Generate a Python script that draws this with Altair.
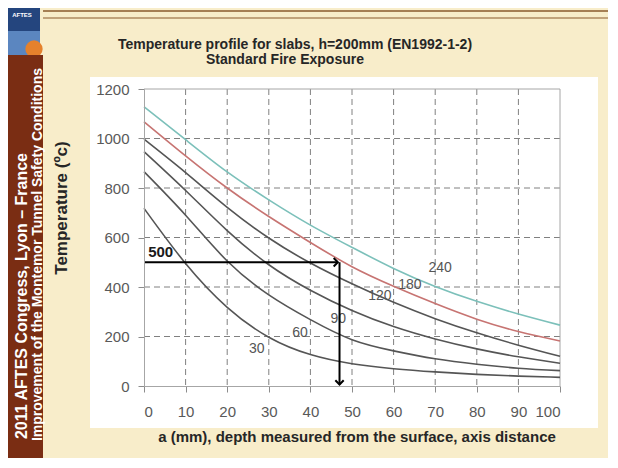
import altair as alt
import pandas as pd

# ---------------- data ----------------
depth_mm = [0, 10, 20, 30, 40, 50, 60, 70, 80, 90, 100]
R30 = [718, 495, 318, 197, 127, 90, 70, 57, 47, 40, 35]
R60 = [866, 690, 505, 368, 268, 187, 142, 110, 88, 72, 62]
R90 = [947, 790, 628, 490, 387, 305, 240, 190, 150, 118, 92]
R120 = [997, 862, 722, 598, 497, 413, 338, 272, 215, 165, 120]
R180 = [1068, 930, 800, 685, 580, 482, 403, 333, 270, 220, 182]
R240 = [1128, 995, 865, 752, 650, 560, 475, 402, 342, 291, 246]

series_names = ["30", "60", "90", "120", "180", "240"]
series_values = [R30, R60, R90, R120, R180, R240]
series_colors = ["#555555", "#555555", "#555555", "#555555", "#c77472", "#7cc0ba"]

label_x = [27.1, 37.5, 46.7, 56.7, 63.9, 71.2]
label_t = [150, 213, 269, 364, 408, 478]

x_ticks = [0, 10, 20, 30, 40, 50, 60, 70, 80, 90, 100]
y_ticks = [0, 200, 400, 600, 800, 1000, 1200]
x_grid = [10, 20, 30, 40, 50, 60, 70, 80, 90]
y_grid = [200, 400, 600, 800, 1000]

arrow_depth = 47
arrow_temp = 500
arrow_bottom = 6

# ---------------- helpers ----------------
W, H = 416, 297
FONT = "Liberation Sans, Arial, sans-serif"
one = pd.DataFrame({"k": [0]})

xs = alt.Scale(domain=[0, 100], nice=False)
ys = alt.Scale(domain=[0, 1200], nice=False)


def box(x0, x1, y0, y1, color):
    return alt.Chart(one).mark_rect(color=color).encode(
        x=alt.value(x0), x2=alt.value(x1), y=alt.value(y0), y2=alt.value(y1))


def hline(x0, x1, y, color, w):
    return alt.Chart(one).mark_rule(color=color, strokeWidth=w).encode(
        x=alt.value(x0), x2=alt.value(x1), y=alt.value(y))


def label(txt, x, y, **kw):
    return alt.Chart(one).mark_text(**kw).encode(
        x=alt.value(x), y=alt.value(y), text=alt.value(txt))


layers = []

# slide decoration (offsets relative to plot origin)
layers.append(hline(-101, 470, -78, "#8a5a2c", 1.5))
layers.append(hline(-101, 470, -71, "#8a5a2c", 1.2))
layers.append(box(-136, -104, -81, -58, "#24457e"))
layers.append(box(-136, -104, -58, -34, "#5b86c0"))
layers.append(alt.Chart(one).mark_point(shape="circle", filled=True, color="#e5812c",
                                        size=300, opacity=1).encode(
    x=alt.value(-110), y=alt.value(-40)))
layers.append(box(-136, -101, -34, 380, "#7a2d13"))
layers.append(label("AFTES", -122, -74, font=FONT, fontSize=6, fontWeight="bold",
                    color="white"))
layers.append(label("2011 AFTES Congress, Lyon \u2013 France", -122, 64, font=FONT,
                    fontSize=16, fontWeight="bold", color="white", angle=270,
                    align="right", baseline="middle"))
layers.append(label("Improvement of the Montemor Tunnel Safety Conditions", -106, -21,
                    font=FONT, fontSize=14, fontWeight="bold", color="white",
                    angle=270, align="right", baseline="middle"))

# white chart panel
layers.append(box(-54, 454, -12, 339, "white"))

# dashed grid
gx = pd.DataFrame({"x": x_grid})
gy = pd.DataFrame({"t": y_grid})
layers.append(alt.Chart(gx).mark_rule(color="#808080", strokeDash=[6, 4], strokeWidth=1)
              .encode(x=alt.X("x:Q", scale=xs)))
layers.append(alt.Chart(gy).mark_rule(color="#808080", strokeDash=[6, 4], strokeWidth=1)
              .encode(y=alt.Y("t:Q", scale=ys)))
# plot frame (top / right)
layers.append(alt.Chart(pd.DataFrame({"x": [100]})).mark_rule(color="#a6a6a6")
              .encode(x=alt.X("x:Q", scale=xs)))
layers.append(alt.Chart(pd.DataFrame({"t": [1200]})).mark_rule(color="#a6a6a6")
              .encode(y=alt.Y("t:Q", scale=ys)))

# curves
for name, vals, col in zip(series_names, series_values, series_colors):
    df = pd.DataFrame({"a": depth_mm, "T": vals})
    layers.append(alt.Chart(df).mark_line(color=col, strokeWidth=1.6,
                                          interpolate="natural").encode(
        x=alt.X("a:Q", scale=xs, axis=alt.Axis(values=x_ticks, title="", format="d",
                                                 labelFont=FONT, labelFontSize=15,
                                                 labelColor="#595959",
                                                 domainColor="#a6a6a6",
                                                 tickColor="#8c8c8c", tickSize=6,
                                                 labelPadding=12, grid=False,
                                                 zindex=1)),
        y=alt.Y("T:Q", scale=ys, axis=alt.Axis(values=y_ticks, title="", format="d",
                                                labelFont=FONT, labelFontSize=15,
                                                labelColor="#595959",
                                                domainColor="#a6a6a6",
                                                tickColor="#8c8c8c", tickSize=6,
                                                labelPadding=9, grid=False,
                                                zindex=1))))

# curve labels
ldf = pd.DataFrame({"a": label_x, "T": label_t, "txt": series_names})
layers.append(alt.Chart(ldf).mark_text(font=FONT, fontSize=14, color="#555555").encode(
    x=alt.X("a:Q", scale=xs), y=alt.Y("T:Q", scale=ys), text="txt:N"))

# arrows
hdf = pd.DataFrame({"a0": [0], "a1": [arrow_depth - 0.4], "T": [arrow_temp]})
vdf = pd.DataFrame({"a": [arrow_depth], "T0": [arrow_temp], "T1": [arrow_bottom]})
layers.append(alt.Chart(hdf).mark_rule(color="black", strokeWidth=2).encode(
    x=alt.X("a0:Q", scale=xs), x2="a1:Q", y=alt.Y("T:Q", scale=ys)))
layers.append(alt.Chart(vdf).mark_rule(color="black", strokeWidth=2).encode(
    x=alt.X("a:Q", scale=xs), y=alt.Y("T0:Q", scale=ys), y2="T1:Q"))
layers.append(alt.Chart(hdf).mark_point(shape="M -1 -1 L 0 0 L -1 1", filled=False,
                                        color="black", strokeWidth=2, size=70,
                                        opacity=1).encode(
    x=alt.X("a1:Q", scale=xs), y=alt.Y("T:Q", scale=ys)))
layers.append(alt.Chart(vdf).mark_point(shape="M -1 -1 L 0 0 L 1 -1", filled=False,
                                        color="black", strokeWidth=2, size=70,
                                        opacity=1).encode(
    x=alt.X("a:Q", scale=xs), y=alt.Y("T1:Q", scale=ys)))
adf = pd.DataFrame({"a": [1.0], "T": [540], "txt": [str(arrow_temp)]})
layers.append(alt.Chart(adf).mark_text(font=FONT, fontSize=15, fontWeight="bold",
                                       color="#1a1a1a", align="left").encode(
    x=alt.X("a:Q", scale=xs), y=alt.Y("T:Q", scale=ys), text="txt:N"))

# titles
layers.append(label("Temperature profile for slabs,  h=200mm (EN1992-1-2)", 151, -44,
                    font=FONT, fontSize=14, fontWeight="bold", color="#262626",
                    baseline="middle"))
layers.append(label("Standard Fire Exposure", 141, -29, font=FONT, fontSize=14,
                    fontWeight="bold", color="#262626", baseline="middle"))
layers.append(label("Temperature (\u00bac)", -82, 119, font=FONT, fontSize=17,
                    fontWeight="bold", color="#262626", angle=270, baseline="middle"))
layers.append(label("a (mm), depth measured from the surface, axis distance", 213, 348,
                    font=FONT, fontSize=15, fontWeight="bold", color="#262626",
                    baseline="middle"))

chart = alt.layer(*layers).properties(
    width=W, height=H,
    autosize=alt.AutoSizeParams(type="none"),
    padding={"left": 136, "top": 81, "right": 48, "bottom": 72},
).configure(background="#f8edca").configure_view(strokeWidth=0)

chart.save("out.html", embed_options={"renderer": "svg", "actions": False})
